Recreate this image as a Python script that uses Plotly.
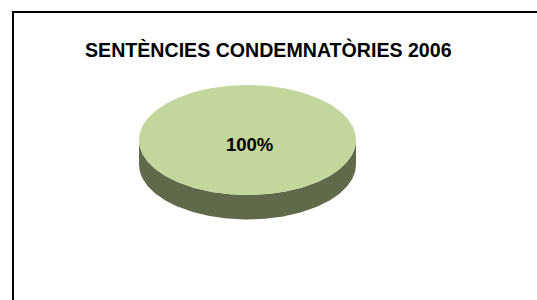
import numpy as np
import plotly.graph_objects as go

# ---- data ----
categories = ["Sentències condemnatòries"]
values = [100]
title_text = "SENTÈNCIES CONDEMNATÒRIES 2006"
top_colors = ["#C3D69B"]
side_colors = ["#5F6A4A"]

# ---- layout geometry (pixel-like axis units) ----
W, H = 537, 300
cx, cy = 247.5, 140.0
rx, ry = 108.5, 55.0
depth = 24.5

fig = go.Figure()

total = float(sum(values))
fracs = [v / total for v in values]
start = -np.pi / 2
angle = start
slices = []
for f in fracs:
    a0, a1 = angle, angle + 2 * np.pi * f
    slices.append((a0, a1))
    angle = a1

# sides first (drawn behind tops)
for (a0, a1), sc in zip(slices, side_colors):
    t = np.linspace(a0, a1, 400)
    tt = np.mod(t, 2 * np.pi)
    mask = np.sin(tt) >= 0
    if mask.any():
        ts = np.sort(tt[mask])
        ts = np.concatenate([[0.0], ts, [np.pi]]) if len(fracs) == 1 else ts
        xs_top = cx + rx * np.cos(ts)
        ys_top = cy + ry * np.sin(ts)
        xs = np.concatenate([xs_top, xs_top[::-1]])
        ys = np.concatenate([ys_top, (ys_top + depth)[::-1]])
        fig.add_trace(go.Scatter(x=xs, y=ys, mode="lines", fill="toself",
                                 fillcolor=sc, line=dict(width=0, color=sc),
                                 hoverinfo="skip", showlegend=False))

for (a0, a1), tc, v, f in zip(slices, top_colors, values, fracs):
    t = np.linspace(a0, a1, 400)
    xs = cx + rx * np.cos(t)
    ys = cy + ry * np.sin(t)
    if f < 1:
        xs = np.concatenate([[cx], xs, [cx]])
        ys = np.concatenate([[cy], ys, [cy]])
    fig.add_trace(go.Scatter(x=xs, y=ys, mode="lines", fill="toself",
                             fillcolor=tc, line=dict(width=0, color=tc),
                             hoverinfo="skip", showlegend=False))
    if f < 1:
        am = (a0 + a1) / 2
        lx, ly = cx + 0.6 * rx * np.cos(am), cy + 0.6 * ry * np.sin(am)
    else:
        lx, ly = cx + 1.5, cy + 4.5
    fig.add_annotation(x=lx, y=ly, xref="x", yref="y",
                       text=f"<b>{round(f * 100)}%</b>", showarrow=False,
                       font=dict(family="Liberation Sans, Arial", size=18.5, color="#000000"))

fig.add_annotation(x=268, y=49, xref="x", yref="y", text=f"<b>{title_text}</b>",
                   showarrow=False,
                   font=dict(family="Liberation Sans, Arial", size=19.6, color="#000000"))

fig.add_shape(type="rect", xref="x", yref="y", x0=13, y0=12, x1=W + 20, y1=H + 20,
              line=dict(color="#000000", width=2), fillcolor="rgba(0,0,0,0)")

fig.update_layout(
    width=W, height=H,
    margin=dict(l=0, r=0, t=0, b=0),
    paper_bgcolor="white", plot_bgcolor="white",
    xaxis=dict(range=[0, W], visible=False, fixedrange=True),
    yaxis=dict(range=[H, 0], visible=False, fixedrange=True),
    showlegend=False,
)

fig.write_html("out.html", config={"displayModeBar": False},
               post_script="document.body.style.margin='0';document.body.style.overflow='hidden';")
